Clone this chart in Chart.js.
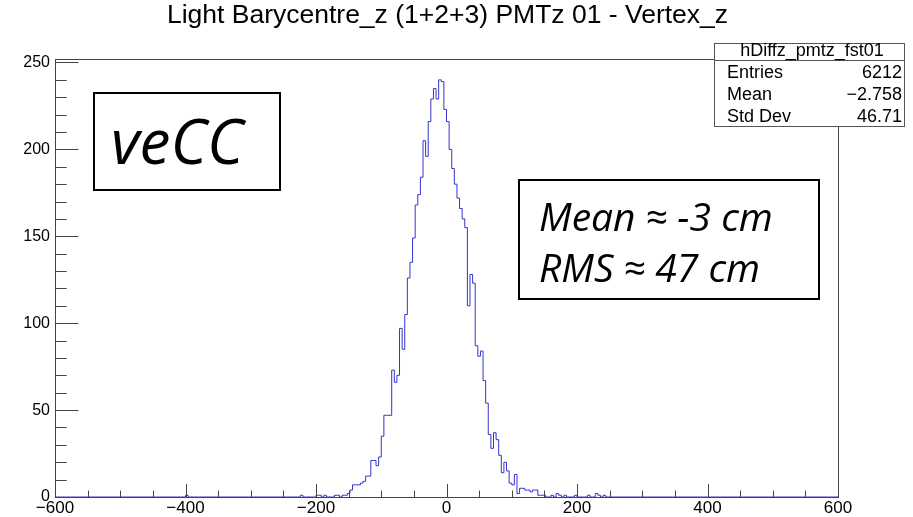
<!DOCTYPE html>
<html>
<head>
<meta charset="utf-8">
<script src="https://cdn.jsdelivr.net/npm/chart.js@4.4.1/dist/chart.umd.min.js"></script>
<style>
  html, body { margin: 0; padding: 0; background: #fff; }
  #wrap { position: relative; width: 913px; height: 517px; }
</style>
</head>
<body>
<div id="wrap"><canvas id="hist" width="913" height="517"></canvas></div>
<script>
// histogram binning (300 bins of 4 cm)
var xMin = -600, xMax = 600, binWidth = 4;
var yMax = 252;

// non-empty bins: left edge of the bin and its entries
var binLeft = [
  -396, -220, -196, -192, -184, -168, -164,
  -156, -152, -148, -144, -140, -136, -132, -128, -124, -120, -116, -112,
  -108, -104, -100, -96, -92, -88, -84, -80, -76, -72, -68, -64,
  -60, -56, -52, -48, -44, -40, -36, -32, -28, -24, -20, -16,
  -12, -8, -4, 0, 4, 8, 12, 16, 20, 24, 28, 32,
  36, 40, 44, 48, 52, 56, 60, 64, 68, 72, 76, 80,
  84, 88, 92, 96, 100, 104, 108, 112, 116, 120, 124, 128,
  132, 136, 140, 144, 148, 152, 164, 172, 176, 184, 200, 220,
  232, 236, 244
];
var binCount = [
  1, 1, 1, 1, 1, 1, 1,
  1, 1, 2, 4, 7, 7, 7, 8, 9, 12, 12, 21,
  21, 18, 23, 35, 47, 47, 47, 73, 66, 70, 97, 85,
  105, 126, 135, 149, 168, 174, 184, 205, 196, 216, 229, 235,
  229, 240, 239, 223, 216, 200, 189, 180, 172, 166, 160, 155,
  110, 128, 123, 87, 81, 84, 67, 54, 36, 28, 37, 33,
  24, 14, 20, 15, 8, 7, 13, 2, 5, 5, 4, 4,
  3, 4, 4, 1, 1, 1, 1, 2, 1, 1, 1, 1,
  2, 1, 1
];

var xTicks = [-600, -400, -200, 0, 200, 400, 600];
var yTicks = [0, 50, 100, 150, 200, 250];

var titleText = 'Light Barycentre_z (1+2+3) PMTz 01 - Vertex_z';
var statsName = 'hDiffz_pmtz_fst01';
var statsLabels = ['Entries', 'Mean', 'Std Dev'];
var statsValues = ['6212', '\u22122.758', '46.71'];
var noteText = 'veCC';
var resultLines = ['Mean \u2248 -3 cm', 'RMS \u2248 47 cm'];

var histColor = '#3434cc';
var rootFont = "'Liberation Sans', Arial, sans-serif";
var noteFont = "'Open Sans', 'Noto Sans', sans-serif";

// full histogram as step points (left edge of each bin)
var nBins = (xMax - xMin) / binWidth;
var counts = [];
for (var i = 0; i < nBins; i++) counts.push(0);
binLeft.forEach(function(edge, k){
  counts[Math.round((edge - xMin) / binWidth)] = binCount[k];
});
var points = counts.map(function(c, i){
  return {x: xMin + i * binWidth, y: c};
});
points.push({x: xMax, y: counts[nBins - 1]});

var fmtNum = function(v){
  return v < 0 ? '\u2212' + Math.abs(v) : String(v);
};

var rootFrame = {
  id: 'rootFrame',
  afterDatasetsDraw: function(chart){
    var ctx = chart.ctx,
        a   = chart.chartArea,
        xs  = chart.scales.x,
        ys  = chart.scales.y;
    ctx.save();
    ctx.strokeStyle = '#444';
    ctx.lineWidth = 1;

    // x ticks (inside the frame)
    ctx.beginPath();
    for (var v = xMin; v <= xMax; v += 50){
      var px = Math.round(xs.getPixelForValue(v)) + 0.5,
          len = (v % 200 === 0) ? 13 : 6.5;
      ctx.moveTo(px, a.bottom);
      ctx.lineTo(px, a.bottom - len);
    }
    // y ticks
    for (var w = 0; w <= 250; w += 10){
      var py = Math.round(ys.getPixelForValue(w)) + 0.5,
          ylen = (w % 50 === 0) ? 23.5 : 11.7;
      ctx.moveTo(a.left, py);
      ctx.lineTo(a.left + ylen, py);
    }
    ctx.stroke();

    // frame
    ctx.strokeRect(Math.round(a.left) + 0.5, Math.round(a.top) + 0.5,
                   Math.round(a.right - a.left), Math.round(a.bottom - a.top));

    // title, centred over the frame
    ctx.fillStyle = '#000';
    ctx.font = '26.5px ' + rootFont;
    ctx.textAlign = 'center';
    ctx.textBaseline = 'middle';
    ctx.fillText(titleText, (a.left + a.right) / 2 + 1, 16);

    // stats box
    ctx.fillStyle = '#fff';
    ctx.fillRect(714, 43, 191, 84);
    ctx.strokeStyle = '#555';
    ctx.strokeRect(714.5, 43.5, 190, 83);
    ctx.beginPath();
    ctx.moveTo(714, 60.5);
    ctx.lineTo(905, 60.5);
    ctx.stroke();
    ctx.fillStyle = '#000';
    ctx.font = '18px ' + rootFont;
    ctx.textBaseline = 'middle';
    ctx.textAlign = 'center';
    ctx.fillText(statsName, 812, 51);
    statsLabels.forEach(function(lab, k){
      var yy = 73 + k * 22;
      ctx.textAlign = 'left';
      ctx.fillText(lab, 727, yy);
      ctx.textAlign = 'right';
      ctx.fillText(statsValues[k], 902, yy);
    });

    // annotation boxes
    ctx.strokeStyle = '#000';
    ctx.lineWidth = 2;
    ctx.fillStyle = '#fff';
    ctx.fillRect(94, 93, 186, 97);
    ctx.strokeRect(94, 93, 186, 97);
    ctx.fillRect(519, 180, 300, 119);
    ctx.strokeRect(519, 180, 300, 119);

    ctx.fillStyle = '#000';
    ctx.textAlign = 'left';
    ctx.textBaseline = 'alphabetic';
    ctx.font = 'italic 62px ' + noteFont;
    ctx.fillText(noteText, 111, 164);
    ctx.font = 'italic 39px ' + noteFont;
    ctx.fillText(resultLines[0], 539, 231);
    ctx.fillText(resultLines[1], 539, 282);
    ctx.restore();
  }
};

var chart = new Chart(document.getElementById('hist'), {
  type: 'line',
  data: {
    datasets: [{
      data: points,
      stepped: 'after',
      borderColor: histColor,
      borderWidth: 1,
      pointRadius: 0,
      fill: false
    }]
  },
  options: {
    responsive: false,
    animation: false,
    layout: { padding: { top: 59, right: 75, left: 0, bottom: 0 } },
    plugins: {
      legend: { display: false },
      tooltip: { enabled: false },
      title: { display: false }
    },
    scales: {
      x: {
        type: 'linear',
        min: xMin,
        max: xMax,
        afterBuildTicks: function(s){ s.ticks = xTicks.map(function(v){ return {value: v}; }); },
        afterFit: function(s){ s.height = 20; },
        grid: { display: false, drawTicks: false },
        border: { display: false },
        ticks: {
          autoSkip: false, maxRotation: 0, padding: 1, color: '#000',
          font: { family: rootFont, size: 17 },
          callback: fmtNum
        }
      },
      y: {
        min: 0,
        max: yMax,
        afterBuildTicks: function(s){ s.ticks = yTicks.map(function(v){ return {value: v}; }); },
        afterFit: function(s){ s.width = 55; },
        grid: { display: false, drawTicks: false },
        border: { display: false },
        ticks: {
          autoSkip: false, padding: 5, color: '#000',
          font: { family: rootFont, size: 16 },
          callback: fmtNum
        }
      }
    }
  },
  plugins: [rootFrame]
});
</script>
</body>
</html>
